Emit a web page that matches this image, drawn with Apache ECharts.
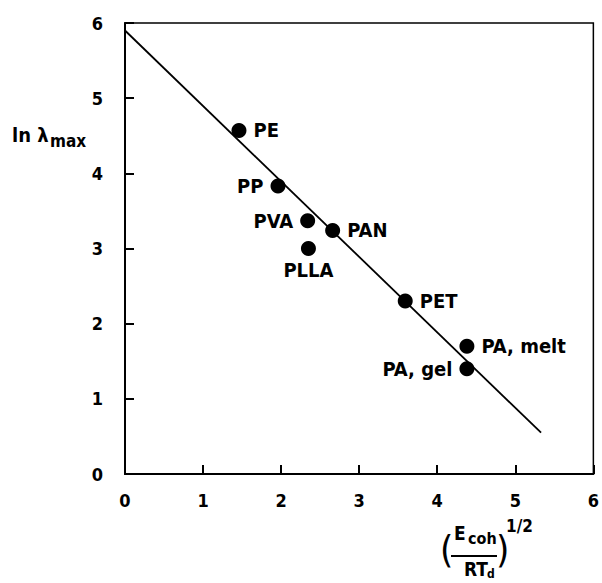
<!DOCTYPE html>
<html>
<head>
<meta charset="utf-8">
<script src="https://cdn.jsdelivr.net/npm/echarts@6/dist/echarts.min.js"></script>
<style>
    html, body { margin: 0; padding: 0; background: #fff; }
    #chart { width: 602px; height: 583px; }
</style>
</head>
<body>
<div id="chart"></div>
<script>
// polymers and their points
var materials = ['PE', 'PP', 'PVA', 'PLLA', 'PAN', 'PET', 'PA, melt', 'PA, gel'];
var cohesion = [1.46, 1.96, 2.34, 2.35, 2.66, 3.59, 4.38, 4.38];
var lnLambda = [4.57, 3.83, 3.37, 3.00, 3.24, 2.30, 1.70, 1.40];
var labelSide = ['right', 'left', 'left', 'bottom', 'right', 'right', 'right', 'left'];

// fitted straight line
var fitX = [0, 5.33];
var fitY = [5.9, 0.55];

var xTicks = [0, 1, 2, 3, 4, 5, 6];
var yTicks = [0, 1, 2, 3, 4, 5, 6];

var font = '"DejaVu Sans Condensed", "DejaVu Sans"';
var chart = echarts.init(document.getElementById('chart'), null, { renderer: 'svg' });

var axisCommon = {
    type: 'value',
    min: 0,
    max: 6,
    interval: 1,
    splitLine: { show: false },
    axisLine: { show: true, onZero: false, lineStyle: { color: '#000', width: 2 } },
    axisTick: { show: true, inside: true, length: 9, lineStyle: { color: '#000', width: 2 } }
};

chart.setOption({
    animation: false,
    grid: {
        left: 125, top: 23, right: 7, bottom: 109,
        show: true, borderColor: '#000', borderWidth: 1.5
    },
    xAxis: Object.assign({}, axisCommon, {
        axisLabel: {
            color: '#000', fontSize: 18, fontWeight: 'bold', fontFamily: font, margin: 17,
            formatter: function (v) { return xTicks.indexOf(v) >= 0 ? String(v) : ''; }
        }
    }),
    yAxis: Object.assign({}, axisCommon, {
        axisLabel: {
            color: '#000', fontSize: 18, fontWeight: 'bold', fontFamily: font, margin: 22,
            formatter: function (v) { return yTicks.indexOf(v) >= 0 ? String(v) : ''; }
        }
    }),
    series: [
        {
            type: 'line',
            data: fitX.map(function (x, i) { return [x, fitY[i]]; }),
            symbol: 'none',
            lineStyle: { color: '#000', width: 1.8 },
            z: 2
        },
        {
            type: 'scatter',
            symbol: 'circle',
            symbolSize: 15,
            itemStyle: { color: '#000', opacity: 1 },
            data: cohesion.map(function (x, i) {
                return {
                    value: [x, lnLambda[i]],
                    name: materials[i],
                    label: {
                        show: true,
                        position: labelSide[i],
                        distance: labelSide[i] === 'bottom' ? 4 : 7,
                        formatter: '{b}',
                        color: '#000',
                        fontSize: 20,
                        fontWeight: 'bold',
                        fontFamily: font
                    }
                };
            }),
            z: 3
        }
    ],
    graphic: [
        // y axis name: ln λmax
        { type: 'text', left: 12, top: 125, style: { text: 'ln λ', font: 'bold 20px "DejaVu Sans Condensed"', fill: '#000' } },
        { type: 'text', left: 50, top: 132, style: { text: 'max', font: 'bold 17px "DejaVu Sans Condensed"', fill: '#000' } },
        // x axis name: (Ecoh / RT)^1/2
        { type: 'text', left: 440, top: 530, style: { text: '(', font: '38px "DejaVu Sans Condensed"', fill: '#000' } },
        { type: 'text', left: 454, top: 523, style: { text: 'E', font: 'bold 19px "DejaVu Sans Condensed"', fill: '#000' } },
        { type: 'text', left: 468, top: 530, style: { text: 'coh', font: 'bold 16px "DejaVu Sans Condensed"', fill: '#000' } },
        { type: 'line', shape: { x1: 451, y1: 556, x2: 497, y2: 556 }, style: { stroke: '#000', lineWidth: 2 } },
        { type: 'text', left: 464, top: 559, style: { text: 'RT', font: 'bold 19px "DejaVu Sans Condensed"', fill: '#000' } },
        { type: 'text', left: 487, top: 568, style: { text: 'd', font: 'bold 12px "DejaVu Sans Condensed"', fill: '#000' } },
        { type: 'text', left: 496, top: 530, style: { text: ')', font: '38px "DejaVu Sans Condensed"', fill: '#000' } },
        { type: 'text', left: 506, top: 517, style: { text: '1/2', font: 'bold 17px "DejaVu Sans Condensed"', fill: '#000' } }
    ]
});
</script>
</body>
</html>
